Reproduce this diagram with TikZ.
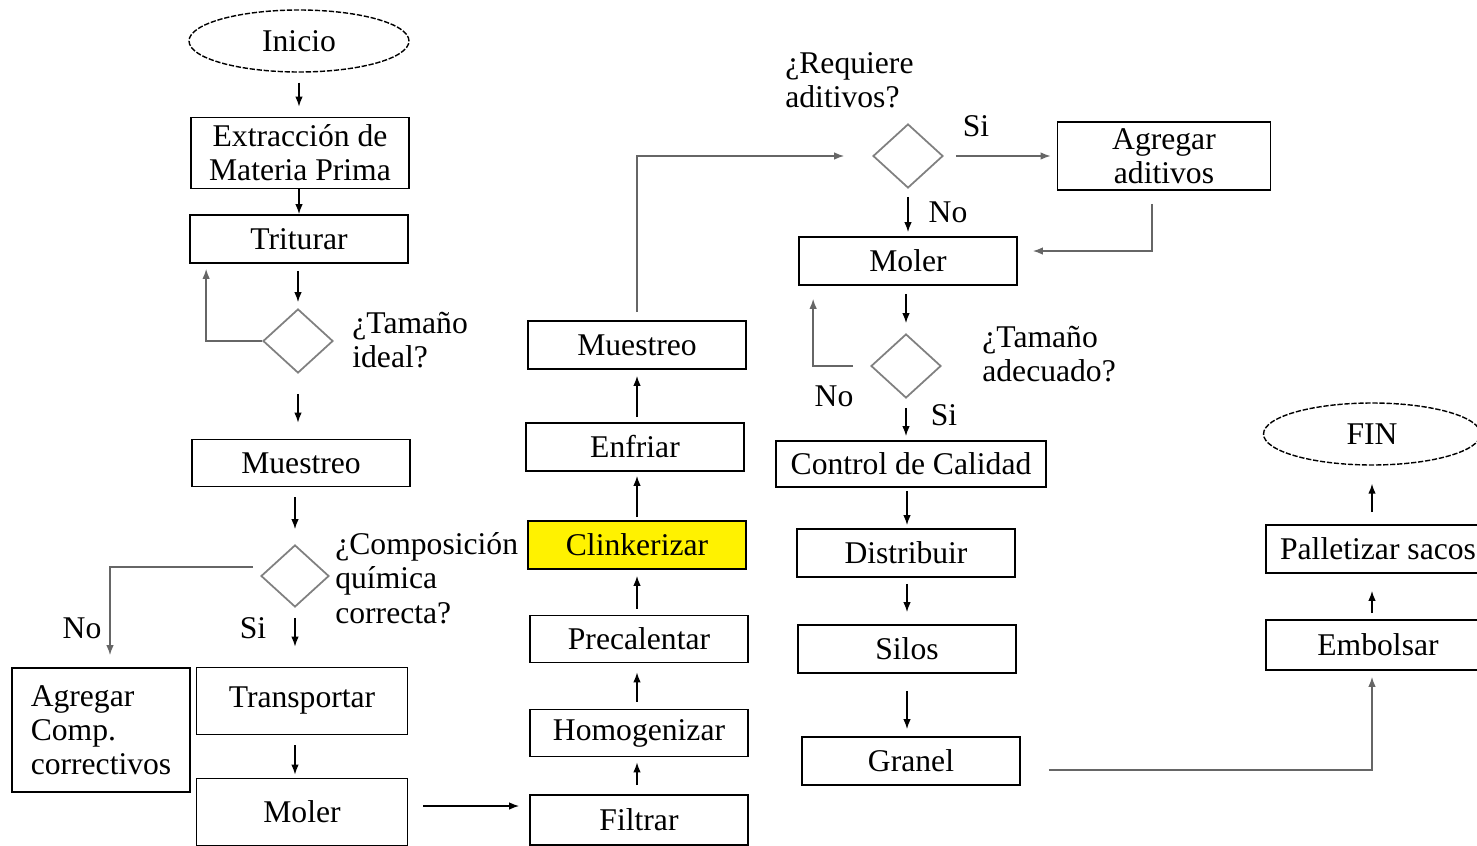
\documentclass[tikz,border=0pt]{standalone}
\usepackage{fontspec}
\setmainfont{Liberation Serif}
\usetikzlibrary{shapes.geometric,arrows.meta}

\begin{document}
\begin{tikzpicture}[x=0.02cm,y=-0.02cm,font=\fontsize{18pt}{19.5pt}\selectfont,
    box/.style={draw, line width=1pt, minimum width=4.36cm, minimum height=0.96cm, align=center, inner sep=1pt},
    term/.style={ellipse, draw, line width=0.8pt, dash pattern=on 3pt off 1pt, minimum width=4.4cm, minimum height=1.24cm},
    decision/.style={diamond, draw=black!50, line width=1pt, minimum width=1.4cm, minimum height=1.28cm, inner sep=0pt},
    arr/.style={-{Latex[length=2mm,width=1.5mm]}, line width=0.8pt},
    link/.style={arr, draw=black!60},
    question/.style={align=left, inner sep=0pt, anchor=west}]
    \useasboundingbox (0,0) rectangle (1477,845);

    % first column
    \node[term] (ini) at (299,41) {Inicio};
    \node[box, minimum height=1.42cm] (ext) at (300,153) {Extracción de\\Materia Prima};
    \node[box] (tri) at (299,239) {Triturar};
    \node[decision] (d1) at (298,341) {};
    \node[question] (q1) at (352,340) {¿Tamaño\\ideal?};
    \node[box, minimum height=0.94cm] (mue1) at (301,463) {Muestreo};
    \node[decision, minimum width=1.36cm, minimum height=1.24cm] (d2) at (295,576) {};
    \node[question] (q2) at (335,578) {¿Composición\\química\\correcta?};
    \node (no1) at (82,628) {No};
    \node (si1) at (253,628) {Si};
    \node[box, minimum width=3.56cm, minimum height=2.48cm, align=left] (agr) at (101,730) {Agregar\\Comp.\\correctivos};
    \node[box, minimum width=4.22cm, minimum height=1.34cm] (tra) at (302,701) {Transportar};
    \node[box, minimum width=4.22cm, minimum height=1.34cm] (mol1) at (302,812) {Moler};

    % second column
    \node[box, minimum height=1cm] (fil) at (639,820) {Filtrar};
    \node[box, minimum height=0.94cm] (hom) at (639,733) {Homogenizar};
    \node[box, minimum height=0.94cm] (pre) at (639,639) {Precalentar};
    \node[box, fill=yellow] (cli) at (637,545) {Clinkerizar};
    \node[box] (enf) at (635,447) {Enfriar};
    \node[box] (mue2) at (637,345) {Muestreo};

    % third column
    \node[decision] (d3) at (908,156) {};
    \node[question] (q3) at (785,80) {¿Requiere\\aditivos?};
    \node (si2) at (976,126) {Si};
    \node[box, minimum width=4.26cm, minimum height=1.36cm] (aad) at (1164,156) {Agregar\\aditivos};
    \node (no2) at (948,212) {No};
    \node[box] (mol2) at (908,261) {Moler};
    \node[decision] (d4) at (906,366) {};
    \node[question] (q4) at (982,354) {¿Tamaño\\adecuado?};
    \node (no3) at (834,396) {No};
    \node (si3) at (944,415) {Si};
    \node[box, minimum width=5.4cm, minimum height=0.92cm] (cal) at (911,464) {Control de Calidad};
    \node[box] (dis) at (906,553) {Distribuir};
    \node[box] (sil) at (907,649) {Silos};
    \node[box] (gra) at (911,761) {Granel};

    % last column
    \node[term, minimum width=4.34cm] (fin) at (1372,434) {FIN};
    \node[box, minimum width=4.48cm] (pal) at (1378,549) {Palletizar sacos};
    \node[box, minimum width=4.48cm, minimum height=1cm] (emb) at (1378,645) {Embolsar};

    % connectors
    \draw[arr, shorten <=0.2cm, shorten >=0.2cm] (ini) -- (ini |- ext.north);
    \draw[arr] (ext.south -| tri) -- (tri.north);
    \draw[arr, shorten <=0.14cm, shorten >=0.12cm] (tri.south -| d1) -- (d1.north);
    \draw[link] (d1.west) -| ([xshift=0.34cm, yshift=-0.1cm]tri.south west);
    \draw[arr, shorten <=0.4cm, shorten >=0.32cm] (d1) -- (d1 |- mue1.north);
    \draw[arr, shorten <=0.2cm, shorten >=0.3cm] (mue1.south -| d2) -- (d2.north);
    \draw[link, shorten <=0.14cm] ([yshift=0.18cm]d2.west) -| ([xshift=0.18cm, yshift=0.24cm]agr.north);
    \draw[arr, shorten <=0.2cm, shorten >=0.4cm] (d2) -- (d2 |- tra.north);
    \draw[arr, shorten <=0.2cm, shorten >=0.06cm] (tra.south -| d2) -- (mol1.north -| d2);
    \draw[arr, shorten <=0.3cm, shorten >=0.2cm] ([yshift=0.12cm]mol1.east) -- ([yshift=0.12cm]mol1.east -| fil.west);
    \draw[arr, shorten <=0.18cm, shorten >=0.1cm] (fil.north -| cli) -- (hom.south -| cli);
    \draw[arr, shorten <=0.14cm, shorten >=0.18cm] (hom.north -| cli) -- (pre.south -| cli);
    \draw[arr, shorten <=0.12cm, shorten >=0.12cm] (pre.north -| cli) -- (cli.south);
    \draw[arr, shorten <=0.06cm, shorten >=0.08cm] (cli.north) -- (enf.south -| cli);
    \draw[arr, shorten <=0.1cm, shorten >=0.12cm] (enf.north -| cli) -- (mue2.south -| cli);
    \draw[link, shorten <=0.16cm, shorten >=0.56cm] (mue2) |- (d3.west);
    \draw[link, shorten <=0.24cm, shorten >=0.12cm] (d3.east) -- (aad.west);
    \draw[link, shorten <=0.26cm, shorten >=0.3cm] ([xshift=-0.24cm]aad.south) |- ([yshift=0.2cm]mol2.east);
    \draw[arr, shorten <=0.16cm, shorten >=0.08cm] (d3) -- (d3 |- mol2.north);
    \draw[arr, shorten <=0.16cm, shorten >=0.2cm] (mol2.south -| d4) -- (d4.north);
    \draw[link, shorten <=0.34cm] (d4.west) -| ([xshift=0.3cm, yshift=-0.26cm]mol2.south west);
    \draw[arr, shorten <=0.18cm, shorten >=0.08cm] (d4) -- (d4 |- cal.north);
    \draw[arr, shorten <=0.06cm, shorten >=0.06cm] (cal.south -| sil) -- (dis.north -| sil);
    \draw[arr, shorten <=0.12cm, shorten >=0.24cm] (dis.south -| sil) -- (sil.north);
    \draw[arr, shorten <=0.34cm, shorten >=0.14cm] (sil.south) -- (gra.north -| sil);
    \draw[link, shorten <=0.56cm, shorten >=0.12cm] ([yshift=-0.18cm]gra.east) -| (emb.south -| fin);
    \draw[arr, shorten <=0.12cm, shorten >=0.34cm] (emb.north -| fin) -- (pal.south -| fin);
    \draw[arr, shorten <=0.24cm, shorten >=0.36cm] (pal.north -| fin) -- (fin.south);
    %
\end{tikzpicture}
\end{document}
